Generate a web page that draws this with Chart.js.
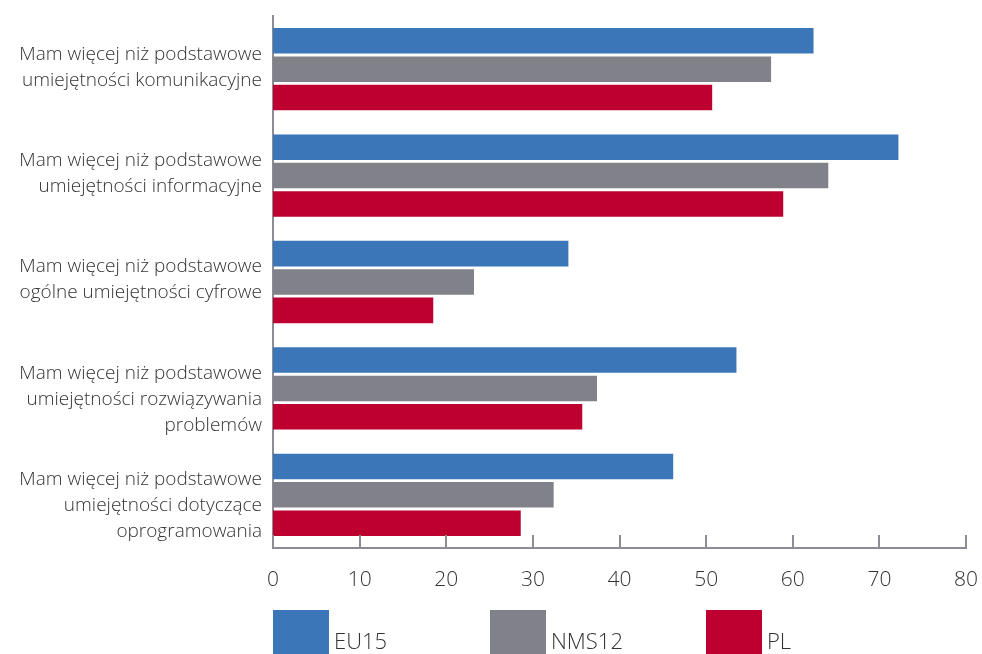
<!DOCTYPE html>
<html>
<head>
<meta charset="utf-8">
<script src="https://cdn.jsdelivr.net/npm/chart.js@4"></script>
<style>
  html, body { margin: 0; padding: 0; background: #fff; overflow: hidden; }
  #wrap { position: relative; width: 982px; height: 654px; }
  .leg { position: absolute; top: 610px; display: flex; align-items: center; font-family: 'Open Sans', sans-serif; font-weight: 300; font-size: 22px; color: #333; }
  .leg span.box { display: inline-block; width: 56px; height: 60px; margin-right: 5px; }
</style>
</head>
<body>
<div id="wrap">
  <canvas id="chart" width="982" height="654"></canvas>
  <div id="legend"></div>
</div>
<script>
const categories = [
    ['Mam więcej niż podstawowe', 'umiejętności komunikacyjne'],
    ['Mam więcej niż podstawowe', 'umiejętności informacyjne'],
    ['Mam więcej niż podstawowe', 'ogólne umiejętności cyfrowe'],
    ['Mam więcej niż podstawowe', 'umiejętności rozwiązywania', 'problemów'],
    ['Mam więcej niż podstawowe', 'umiejętności dotyczące', 'oprogramowania']
];
const seriesNames = ['EU15', 'NMS12', 'PL'];
const eu15 = [62.4, 72.2, 34.1, 53.5, 46.2];
const nms12 = [57.5, 64.1, 23.2, 37.4, 32.4];
const pl = [50.7, 58.9, 18.5, 35.7, 28.6];
const xTicks = [0, 10, 20, 30, 40, 50, 60, 70, 80];

const colors = ['#3b76b9', '#818189', '#be0030'];
const axisColor = '#8c8c94';
const font = "'Open Sans', sans-serif";

// tick marks pointing up from the bottom axis
const innerTicks = {
    id: 'innerTicks',
    afterDraw(chart) {
        const x = chart.scales.x;
        const ctx = chart.ctx;
        const bottom = chart.chartArea.bottom;
        ctx.save();
        ctx.strokeStyle = axisColor;
        ctx.lineWidth = 2;
        xTicks.forEach(v => {
            const px = Math.round(x.getPixelForValue(v));
            ctx.beginPath();
            ctx.moveTo(px, bottom);
            ctx.lineTo(px, bottom - 13);
            ctx.stroke();
        });
        ctx.restore();
    }
};

// category labels: first line sits just above the group's centre, extra lines go below
const catLabels = {
    id: 'catLabels',
    afterDraw(chart) {
        const y = chart.scales.y;
        const ctx = chart.ctx;
        ctx.save();
        ctx.font = '300 19px ' + font;
        ctx.fillStyle = '#333';
        ctx.textAlign = 'right';
        ctx.textBaseline = 'middle';
        categories.forEach((lines, i) => {
            const cy = y.getPixelForValue(i);
            lines.forEach((t, j) => {
                ctx.fillText(t, chart.chartArea.left - 11, cy - 15 + j * 26);
            });
        });
        ctx.restore();
    }
};

const datasets = [eu15, nms12, pl].map((d, i) => ({
    label: seriesNames[i],
    data: d,
    backgroundColor: colors[i],
    categoryPercentage: 0.8,
    barPercentage: 0.9
}));

const chart = new Chart(document.getElementById('chart').getContext('2d'), {
    type: 'bar',
    data: { labels: categories, datasets: datasets },
    options: {
        indexAxis: 'y',
        responsive: false,
        animation: false,
        layout: { padding: { top: 16, right: 16, left: 0, bottom: 56 } },
        plugins: { legend: { display: false }, tooltip: { enabled: false } },
        scales: {
            x: {
                min: 0, max: 80,
                afterBuildTicks: s => { s.ticks = xTicks.map(v => ({ value: v })); },
                afterFit: s => { s.height = 50; s.paddingLeft = 0; s.paddingRight = 0; },
                grid: { display: false, drawTicks: false },
                border: { display: true, color: axisColor, width: 2 },
                ticks: { color: '#333', padding: 19, font: { family: font, size: 21, weight: 300 } }
            },
            y: {
                afterFit: s => { s.width = 273; s.paddingTop = 0; s.paddingBottom = 0; },
                grid: { display: false, drawTicks: false },
                border: { display: true, color: axisColor, width: 2 },
                ticks: { display: false }
            }
        }
    },
    plugins: [innerTicks, catLabels]
});

// legend below the chart
const legendLeft = [273, 490, 706];
const legend = document.getElementById('legend');
seriesNames.forEach((name, i) => {
    const el = document.createElement('div');
    el.className = 'leg';
    el.style.left = legendLeft[i] + 'px';
    el.innerHTML = '<span class="box" style="background:' + colors[i] + '"></span><span>' + name + '</span>';
    legend.appendChild(el);
});
</script>
</body>
</html>
